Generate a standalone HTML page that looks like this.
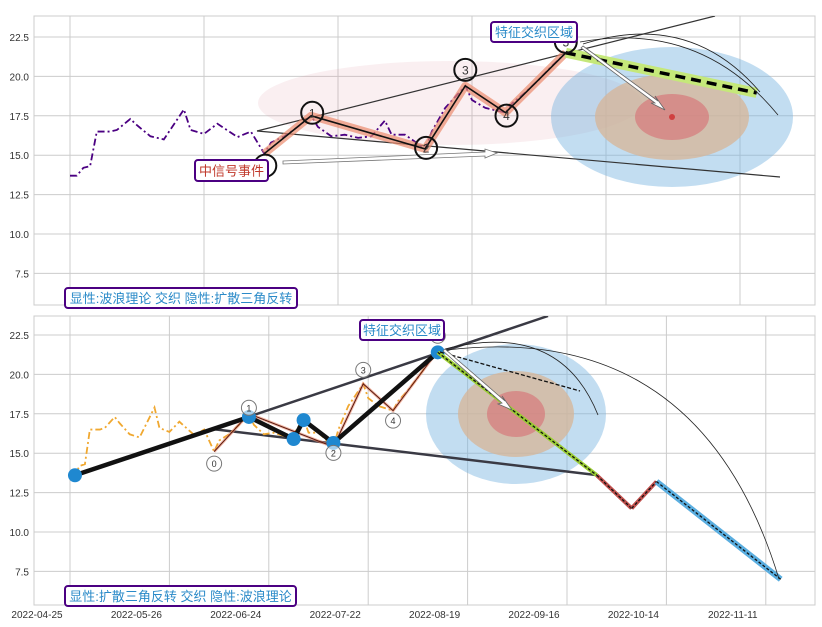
<!DOCTYPE html>
<html><head><meta charset="utf-8"><style>
body{margin:0;background:#fff;}
svg{display:block;font-family:"Liberation Sans","Noto Sans CJK SC",sans-serif;}
</style></head><body>
<svg id="chart" width="822" height="627" xmlns="http://www.w3.org/2000/svg"></svg>
<script>
// ---- data ----
const priceIdx = [0,1,2,3,4,6,7,9,10,12,14,17,18,20,22,25,27,29,30,32,34,36,37,39,41,43,45,47,48,50,53,54,56,59,60,62,65,66,68,70,72,74];
const priceVal = [13.7,13.7,14.2,14.3,16.5,16.5,16.6,17.3,16.9,16.2,16.0,17.9,16.6,16.35,17.0,16.15,16.5,15.1,15.8,16.2,16.8,17.5,16.8,16.2,16.3,16.1,16.2,17.2,16.3,16.3,15.4,16.5,18.0,19.4,18.5,18.0,17.7,18.3,19.0,19.8,20.7,21.5];
const waveIdx = [29,36,53,59,65,74];
const waveVal = [15.1,17.5,15.4,19.4,17.7,21.5];
const waveLabels = ["0","1","2","3","4","5"];
const triIdx = [1,36,45,47,53,74];
const triVal = [13.6,17.3,15.9,17.1,15.65,21.4];
const projTopIdx = [74,102.5];
const projTopVal = [21.5,18.95];
const projBotIdx = [74,106,113,118,143];
const projBotVal = [21.4,13.6,11.5,13.2,7.0];
const yTicks = [7.5,10.0,12.5,15.0,17.5,20.0,22.5];
const xTickIdx = [0,20,40,60,80,100,120,140];
const xTickLabels = ["2022-04-25","2022-05-26","2022-06-24","2022-07-22","2022-08-19","2022-09-16","2022-10-14","2022-11-11"];

const NS="http://www.w3.org/2000/svg";
const svg=document.getElementById('chart');
function mk(tag,attrs,parent){const e=document.createElementNS(NS,tag);for(const k in attrs)e.setAttribute(k,attrs[k]);(parent||svg).appendChild(e);return e;}

const L=34,R=815;
const panels=[
 {top:16,bot:305,x0:70,px:6.7,y0:37},
 {top:316,bot:605,x0:70,px:4.97,y0:335}
];
function X(p,i){return p.x0+i*p.px;}
function Y(p,v){return p.y0+(22.5-v)*15.76;}
function pts(p,xs,ys){return xs.map((x,k)=>X(p,x)+','+Y(p,ys[k])).join(' ');}

panels.forEach((p,pi)=>{
  const g=mk('g',{});
  
  
  const cid='clip'+pi;
  const cp=mk('clipPath',{id:cid},g);mk('rect',{x:L,y:p.top,width:R-L,height:p.bot-p.top},cp);
  yTicks.forEach(v=>{
    const ln=mk('line',{x1:L,x2:R,y1:Y(p,v),y2:Y(p,v),stroke:'#cccccc','stroke-width':1},g);
    
    
    const t=mk('text',{x:L-5,y:Y(p,v)+4,'text-anchor':'end','font-size':10,fill:'#333'},g);
    t.textContent=v.toFixed(1);
    
    
  });
  for(let i=0;i<8;i++){const x=X(p,i*20);if(x<R){
    const ln=mk('line',{x1:x,x2:x,y1:p.top,y2:p.bot,stroke:'#cccccc','stroke-width':1},g);
    
    
  }}
  const fr=mk('rect',{x:L,y:p.top,width:R-L,height:p.bot-p.top,fill:'none',stroke:'#cccccc'},g);
  
  
  p.g=mk('g',{'clip-path':'url(#'+cid+')'},g);
});

// ---------- top panel ----------
const T=panels[0],tg=T.g;
let e;
e=mk('ellipse',{cx:450,cy:103,rx:192,ry:42,fill:'rgba(220,150,160,0.15)'},tg);


[[121,70,'rgba(120,180,225,0.45)'],[77,43,'rgba(215,180,150,0.75)'],[37,23,'rgba(215,110,115,0.6)']].forEach(a=>{
  e=mk('ellipse',{cx:672,cy:117,rx:a[0],ry:a[1],fill:a[2]},tg);
  
  
});
e=mk('circle',{cx:672,cy:117,r:3,fill:'#d04040'},tg);


e=mk('line',{x1:257,y1:131,x2:715,y2:16,stroke:'#333','stroke-width':1.2},tg);


e=mk('line',{x1:257,y1:131,x2:780,y2:177,stroke:'#333','stroke-width':1.2},tg);


e=mk('polyline',{points:pts(T,priceIdx,priceVal),fill:'none',stroke:'#4b0082','stroke-width':1.8,'stroke-dasharray':'7,3,2,3'},tg);


e=mk('polyline',{points:pts(T,waveIdx,waveVal),fill:'none',stroke:'rgba(235,140,110,0.7)','stroke-width':8,'stroke-linejoin':'round'},tg);


e=mk('polyline',{points:pts(T,waveIdx,waveVal),fill:'none',stroke:'#111','stroke-width':1.6},tg);


e=mk('polyline',{points:pts(T,projTopIdx,projTopVal),fill:'none',stroke:'#c5e87a','stroke-width':10},tg);


e=mk('polyline',{points:pts(T,projTopIdx,projTopVal),fill:'none',stroke:'#000','stroke-width':3.5,'stroke-dasharray':'10,6'},tg);


e=mk('path',{d:'M583,44 Q690,10 760,92',fill:'none',stroke:'#222','stroke-width':0.8},tg);


e=mk('path',{d:'M580,42 Q700,20 778,115',fill:'none',stroke:'#222','stroke-width':0.8},tg);


e=mk('path',{d:'M583,46 L658,101 L655,96 L665,110 L651,103 L655,103 L581,48 Z',fill:'#fff',stroke:'#666','stroke-width':0.8},tg);


e=mk('path',{d:'M283,161 L485,152 L485,149 L497,153 L485,158 L485,156 L283,164 Z',fill:'#fff',stroke:'#777','stroke-width':0.8},tg);


const topOff=[[1,12],[1,-3],[1,-1],[0,-16],[1,3],[0,-11]];
waveIdx.forEach((ix,k)=>{
  const cx=X(T,ix)+topOff[k][0],cy=Y(T,waveVal[k])+topOff[k][1];
  const c=mk('circle',{cx:cx,cy:cy,r:11,fill:'none',stroke:'#111','stroke-width':2},tg);
  
  
  const t=mk('text',{x:cx,y:cy+4.5,'text-anchor':'middle','font-size':12,fill:'#333'},tg);
  t.textContent=waveLabels[k];
  
  
});

// ---------- bottom panel ----------
const B=panels[1],bg=B.g;
[[90,70,'rgba(120,180,225,0.45)'],[58,43,'rgba(215,180,150,0.75)'],[29,23,'rgba(215,110,115,0.6)']].forEach(a=>{
  e=mk('ellipse',{cx:516,cy:414,rx:a[0],ry:a[1],fill:a[2]},bg);
  
  
});
e=mk('line',{x1:X(B,triIdx[0]),y1:Y(B,triVal[0]),x2:548,y2:316,stroke:'#3a3a44','stroke-width':2.5},bg);


e=mk('line',{x1:212,y1:429,x2:596,y2:475,stroke:'#3a3a44','stroke-width':2.5},bg);


e=mk('polyline',{points:pts(B,priceIdx,priceVal),fill:'none',stroke:'#f0a830','stroke-width':1.8,'stroke-dasharray':'7,3,2,3'},bg);


e=mk('polyline',{points:pts(B,waveIdx,waveVal),fill:'none',stroke:'rgba(235,140,110,0.6)','stroke-width':3},bg);


e=mk('polyline',{points:pts(B,waveIdx,waveVal),fill:'none',stroke:'#5a1a10','stroke-width':1},bg);


e=mk('polyline',{points:pts(B,triIdx,triVal),fill:'none',stroke:'#111','stroke-width':4.5,'stroke-linejoin':'round'},bg);


triIdx.forEach((ix,k)=>{
  const c=mk('circle',{cx:X(B,ix),cy:Y(B,triVal[k]),r:7,fill:'#1f88d0'},bg);
  
  
});
const projColors=['#9acd32','#c0504d','#c0504d','#5aaee0'];
const projWidths=[4,4,4,6];
for(let k=0;k<projBotIdx.length-1;k++){
  const seg=[X(B,projBotIdx[k])+','+Y(B,projBotVal[k]),X(B,projBotIdx[k+1])+','+Y(B,projBotVal[k+1])].join(' ');
  e=mk('polyline',{points:seg,fill:'none',stroke:projColors[k],'stroke-width':projWidths[k]},bg);
  
  
  e=mk('polyline',{points:seg,fill:'none',stroke:'#111','stroke-width':1.3,'stroke-dasharray':'3,2'},bg);
  
  
}
e=mk('line',{x1:440,y1:352,x2:580,y2:391,stroke:'#111','stroke-width':1.3,'stroke-dasharray':'4,2'},bg);


e=mk('path',{d:'M445,349 Q560,320 598,415',fill:'none',stroke:'#222','stroke-width':0.8},bg);


e=mk('path',{d:'M447,350 Q700,320 779,579',fill:'none',stroke:'#222','stroke-width':0.8},bg);


e=mk('path',{d:'M445,349 L505,401 L502,396 L512,410 L498,404 L502,403 L443,351 Z',fill:'#fff',stroke:'#666','stroke-width':0.8},bg);


const botOff=[[0,12],[0,-6],[0,6],[0,-14],[0,10],[0,-15]];
waveIdx.forEach((ix,k)=>{
  const cx=X(B,ix)+botOff[k][0],cy=Y(B,waveVal[k])+botOff[k][1];
  const c=mk('circle',{cx:cx,cy:cy,r:7.5,fill:'rgba(255,255,255,0.6)',stroke:'#777','stroke-width':1},bg);
  
  
  const t=mk('text',{x:cx,y:cy+3.5,'text-anchor':'middle','font-size':9,fill:'#333'},bg);
  t.textContent=waveLabels[k];
  
  
});
xTickIdx.forEach((ix,k)=>{
  const t=mk('text',{x:X(B,ix)-33,y:618,'text-anchor':'middle','font-size':10,fill:'#333'});
  t.textContent=xTickLabels[k];
  
  
});

// ---------- annotation boxes ----------
function box(x,y,w,h,txt,color,fs,name){
  const r=mk('rect',{x:x,y:y,width:w,height:h,rx:3,fill:'#fff',stroke:'#4b0082','stroke-width':2});
  
  
  const t=mk('text',{x:x+w/2,y:y+h/2+fs*0.38,'text-anchor':'middle','font-size':fs,fill:color});
  t.textContent=txt;
  
  
}
box(491,22,86,20,'特征交织区域','#2a8ac8',13,'feature-zone-label-top');
box(360,320,84,20,'特征交织区域','#2a8ac8',13,'feature-zone-label-bottom');
box(195,160,73,21,'中信号事件','#c0392b',13,'signal-event-label');
box(65,288,232,20,'显性:波浪理论 交织 隐性:扩散三角反转','#2a8ac8',13,'top-panel-title');
box(65,586,231,20,'显性:扩散三角反转 交织 隐性:波浪理论','#2a8ac8',13,'bottom-panel-title');
</script>
</body></html>
